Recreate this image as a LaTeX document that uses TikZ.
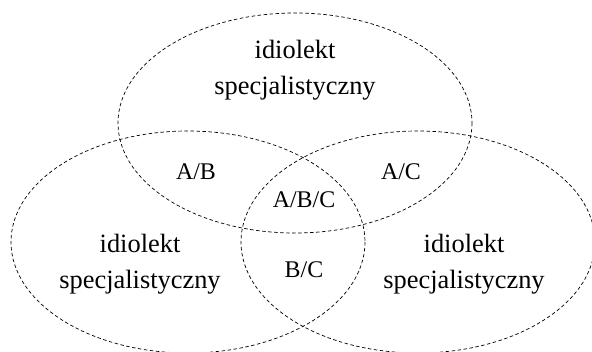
\documentclass[tikz,border=0pt]{standalone}
\usepackage{fontspec}
\setmainfont{Liberation Serif}
\usepackage{tikz}

\begin{document}
\begin{tikzpicture}[x=1bp, y=-1bp,
		set/.style={dash pattern=on 3.5bp off 2.5bp, line width=0.7bp},
		idio/.style={align=center, font=\fontsize{26.5}{36}\selectfont},
		part/.style={font=\fontsize{24}{28}\selectfont}]
	\useasboundingbox (0,0) rectangle (592,351);

	\draw [set] (295,123) coordinate (A) ellipse [x radius=177, y radius=110];
	\draw [set] (188,242) coordinate (B) ellipse [x radius=177, y radius=111];
	\draw [set] (418,242) coordinate (C) ellipse [x radius=177, y radius=111];

	\node [idio] (idioA) at (295,70) {idiolekt\\specjalistyczny};
	\node [idio] (idioB) at (140,264) {idiolekt\\specjalistyczny};
	\node [idio] (idioC) at (464,264) {idiolekt\\specjalistyczny};

	\node [part] (AB) at (196,172) {A/B};
	\node [part] (AC) at (401,172) {A/C};
	\node [part] (ABC) at (304,200) {A/B/C};
	\node [part] (BC) at (304,270) {B/C};
\end{tikzpicture}
\end{document}
